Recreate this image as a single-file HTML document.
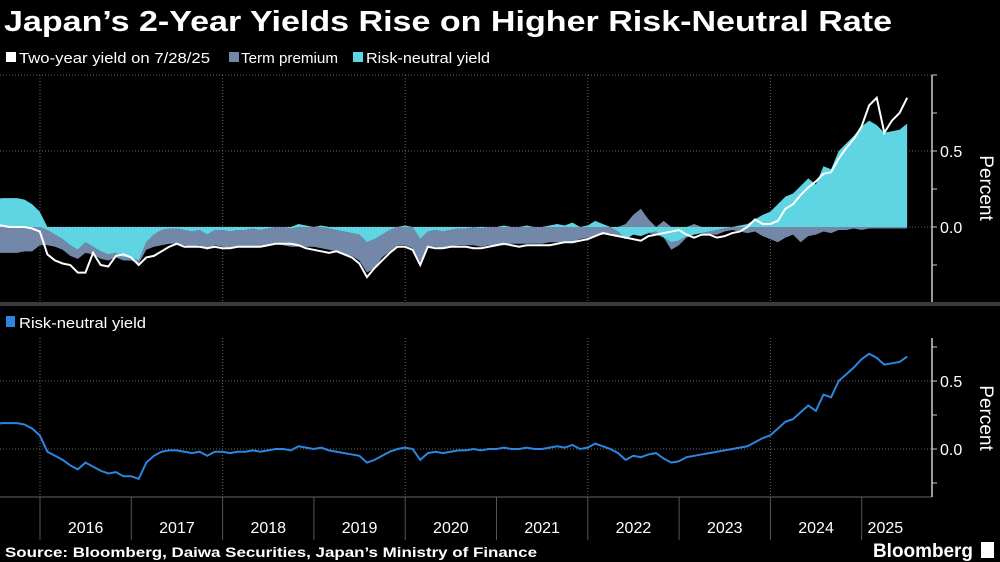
<!DOCTYPE html>
<html><head><meta charset="utf-8"><style>
body{margin:0;background:#000;width:1000px;height:562px;overflow:hidden;font-family:"Liberation Sans",sans-serif;color:#fff}
svg{position:absolute;left:0;top:0}
</style></head><body>
<svg id="c" width="1000" height="562">
<text x="4" y="31" font-size="29" font-weight="bold" fill="#fff" textLength="888" lengthAdjust="spacingAndGlyphs">Japan’s 2-Year Yields Rise on Higher Risk-Neutral Rate</text>
<g font-size="15" fill="#fff">
<rect x="6" y="52" width="10" height="10" fill="#fff"/><text x="19" y="63" textLength="191" lengthAdjust="spacingAndGlyphs">Two-year yield on 7/28/25</text>
<rect x="229" y="52" width="10" height="10" fill="#7388a8"/><text x="241" y="63" textLength="97" lengthAdjust="spacingAndGlyphs">Term premium</text>
<rect x="353" y="52" width="10" height="10" fill="#5fd4e2"/><text x="366" y="63" textLength="124" lengthAdjust="spacingAndGlyphs">Risk-neutral yield</text>
</g>
<g font-size="15" fill="#fff">
<rect x="6" y="316" width="9" height="11" fill="#2b86e0"/><text x="19" y="328" textLength="127" lengthAdjust="spacingAndGlyphs">Risk-neutral yield</text>
</g>
<g id="gridG"></g>
<g id="topG"></g>
<g id="botG"></g>
<g id="axesG"></g>
<rect x="0" y="302" width="1000" height="4" fill="#3a3a3a"/>
<text x="5" y="557" font-size="14" font-weight="bold" fill="#fff" textLength="532" lengthAdjust="spacingAndGlyphs">Source: Bloomberg, Daiwa Securities, Japan’s Ministry of Finance</text>
<text x="873" y="557" font-size="19" font-weight="bold" fill="#fff" textLength="100" lengthAdjust="spacingAndGlyphs">Bloomberg</text>
<rect x="981" y="542" width="13" height="16" fill="#fff"/>
</svg>
<script>
// Monthly data, Jul 2015 – Jul 2025
const startYear = 2015.5;
const years = ["2016","2017","2018","2019","2020","2021","2022","2023","2024","2025"];
const riskNeutral = [0.18,0.19,0.19,0.19,0.18,0.15,
0.10,-0.02,-0.05,-0.08,-0.12,-0.15,-0.10,-0.13,-0.16,-0.18,-0.17,-0.20,
-0.20,-0.22,-0.10,-0.05,-0.02,-0.01,-0.01,-0.02,-0.03,-0.02,-0.05,-0.02,
-0.02,-0.03,-0.02,-0.02,-0.01,-0.02,-0.01,0.0,0.0,-0.01,0.02,0.01,
0.0,0.01,-0.01,-0.02,-0.03,-0.04,-0.05,-0.10,-0.08,-0.05,-0.02,0.0,
0.01,0.0,-0.08,-0.03,-0.02,-0.03,-0.02,-0.01,-0.01,0.0,-0.01,0.0,
0.0,0.01,0.0,0.0,0.01,0.0,0.0,0.01,0.02,0.01,0.03,0.0,
0.01,0.04,0.02,0.0,-0.03,-0.08,-0.05,-0.06,-0.04,-0.03,-0.07,-0.10,
-0.09,-0.06,-0.05,-0.04,-0.03,-0.02,-0.01,0.0,0.01,0.02,0.05,0.08,
0.10,0.15,0.20,0.22,0.27,0.32,0.28,0.40,0.38,0.50,0.55,0.60,
0.66,0.70,0.67,0.62,0.63,0.64,0.68];
const termPremium = [-0.17,-0.17,-0.17,-0.17,-0.16,-0.16,
-0.12,-0.10,-0.08,-0.07,-0.07,-0.06,-0.07,-0.05,-0.05,-0.04,-0.03,-0.02,
-0.02,-0.02,-0.05,-0.08,-0.10,-0.10,-0.10,-0.10,-0.10,-0.10,-0.10,-0.10,
-0.11,-0.11,-0.11,-0.11,-0.12,-0.11,-0.11,-0.11,-0.12,-0.12,-0.13,-0.13,
-0.13,-0.14,-0.14,-0.14,-0.15,-0.15,-0.17,-0.20,-0.19,-0.15,-0.14,-0.12,
-0.12,-0.14,-0.15,-0.10,-0.11,-0.11,-0.11,-0.11,-0.11,-0.12,-0.12,-0.12,
-0.12,-0.12,-0.11,-0.11,-0.11,-0.11,-0.11,-0.10,-0.10,-0.10,-0.10,-0.08,
-0.07,-0.06,-0.05,-0.04,-0.03,0.02,0.08,0.12,0.05,-0.02,0.04,-0.05,
-0.03,-0.01,0.02,0.0,-0.02,-0.03,-0.02,-0.02,-0.03,-0.04,-0.03,-0.06,
-0.08,-0.10,-0.07,-0.05,-0.10,-0.06,-0.05,-0.03,-0.04,-0.02,-0.02,-0.01,
-0.02,-0.01,-0.01,-0.01,-0.01,-0.01,-0.01];
const twoYearYield = [0.01,0.01,0.0,0.0,0.0,-0.01,
-0.03,-0.18,-0.22,-0.24,-0.25,-0.30,-0.30,-0.17,-0.25,-0.26,-0.19,-0.18,
-0.20,-0.25,-0.20,-0.19,-0.16,-0.13,-0.11,-0.13,-0.13,-0.13,-0.14,-0.13,
-0.14,-0.14,-0.13,-0.13,-0.13,-0.13,-0.12,-0.11,-0.11,-0.11,-0.12,-0.14,
-0.15,-0.16,-0.17,-0.16,-0.18,-0.20,-0.24,-0.33,-0.27,-0.22,-0.17,-0.13,
-0.13,-0.15,-0.25,-0.13,-0.14,-0.14,-0.13,-0.13,-0.13,-0.14,-0.14,-0.13,
-0.12,-0.11,-0.12,-0.13,-0.12,-0.12,-0.12,-0.12,-0.11,-0.10,-0.10,-0.09,
-0.08,-0.06,-0.04,-0.05,-0.06,-0.07,-0.08,-0.09,-0.06,-0.05,-0.04,-0.03,
-0.02,-0.05,-0.07,-0.05,-0.05,-0.07,-0.06,-0.04,-0.03,0.00,0.05,0.02,
0.02,0.04,0.12,0.15,0.21,0.26,0.30,0.35,0.36,0.45,0.52,0.58,
0.66,0.80,0.85,0.62,0.70,0.75,0.85];
const topTicks = [0.5, 0.0];
const botTicks = [0.5, 0.0];

const NS="http://www.w3.org/2000/svg";
const X0=40, PXY=91.3, XAXIS=932;
const xOf = t => X0 + (t-2016)*PXY;
const xi = i => xOf(startYear + i/12 + 1/24) - 4;
const yTop = v => 227 - v*152;
const yBot = v => 449 - v*136;
function mk(tag, attrs, parent){const e=document.createElementNS(NS,tag);for(const k in attrs)e.setAttribute(k,attrs[k]);parent.appendChild(e);return e;}
const gridG=document.getElementById('gridG'), topG=document.getElementById('topG'), botG=document.getElementById('botG'), axesG=document.getElementById('axesG');

[yTop(1.0), ...topTicks.map(yTop)].forEach(y=>{const l=mk('line',{x1:0,x2:XAXIS,y1:y,y2:y,stroke:'#666','stroke-dasharray':'1,2'},gridG);

});
botTicks.forEach(v=>{const l=mk('line',{x1:0,x2:XAXIS,y1:yBot(v),y2:yBot(v),stroke:'#666','stroke-dasharray':'1,2'},gridG);

});
years.forEach((yr,k)=>{const x=xOf(+yr);
 if(k%2===0){
  const a=mk('line',{x1:x,x2:x,y1:75,y2:302,stroke:'#666','stroke-dasharray':'1,2'},gridG);
  
  
  const b=mk('line',{x1:x,x2:x,y1:338,y2:497,stroke:'#666','stroke-dasharray':'1,2'},gridG);
  
  
 }
 const d=mk('line',{x1:x,x2:x,y1:497,y2:540,stroke:'#555'},gridG);
 
 
 const nx = k<years.length-1 ? xOf(+yr+1) : 909;
 const t=mk('text',{x:(x+nx)/2,y:533,'font-size':16,'text-anchor':'middle',fill:'#fff'},axesG);
 t.textContent=yr;
 
 
});
const bl=mk('line',{x1:0,x2:XAXIS,y1:497,y2:497,stroke:'#666'},gridG);



const n=riskNeutral.length;
function area(lo,hi,fill,name){
 let d='M'+xi(0)+','+yTop(lo[0]);
 for(let i=0;i<n;i++){d+='L'+xi(i)+','+yTop(lo[i]);}
 for(let i=n-1;i>=0;i--){d+='L'+xi(i)+','+yTop(hi[i]);}
 d+='Z';
 const p=mk('path',{d:d,fill:fill},topG);
 
 
}
const zero=riskNeutral.map(()=>0);
const rnPos=riskNeutral.map(v=>Math.max(v,0)), rnNeg=riskNeutral.map(v=>Math.min(v,0));
const tpPosTop=termPremium.map((v,i)=>rnPos[i]+Math.max(v,0)), tpNegBot=termPremium.map((v,i)=>rnNeg[i]+Math.min(v,0));
area(rnNeg,tpNegBot,'#7388a8','term-premium-negative-area');
area(rnPos,tpPosTop,'#7388a8','term-premium-positive-area');
area(zero,rnPos,'#5fd4e2','risk-neutral-positive-area');
area(zero,rnNeg,'#5fd4e2','risk-neutral-negative-area');
let d=''; twoYearYield.forEach((v,i)=>{d+=(i?'L':'M')+xi(i)+','+yTop(v);});
const yl=mk('path',{d:d,fill:'none',stroke:'#fff','stroke-width':2},topG);


d=''; riskNeutral.forEach((v,i)=>{d+=(i?'L':'M')+xi(i)+','+yBot(v);});
const rl=mk('path',{d:d,fill:'none',stroke:'#2b86e0','stroke-width':2},botG);



function rAxis(y1,y2,minor,major,yf,name){
 const a=mk('line',{x1:XAXIS,x2:XAXIS,y1:y1,y2:y2,stroke:'#ccc','stroke-width':1.5},axesG);
 
 
 minor.forEach(v=>{const t=mk('line',{x1:XAXIS,x2:XAXIS+5,y1:yf(v),y2:yf(v),stroke:'#ccc'},axesG);
  
  });
 major.forEach(v=>{const t=mk('text',{x:XAXIS+8,y:yf(v)+6,'font-size':16,fill:'#fff'},axesG);
  t.textContent=v.toFixed(1);
  
  });
}
rAxis(75,302,[1.0,0.75,0.5,0.25,0,-0.25,-0.5],topTicks,yTop,'top-y');
rAxis(338,497,[0.75,0.5,0.25,0,-0.25],botTicks,yBot,'bottom-y');
[[188,'top-y-axis-title'],[418,'bottom-y-axis-title']].forEach(([y,nm])=>{
 const t=mk('text',{x:0,y:0,'font-size':19,fill:'#fff','text-anchor':'middle',transform:'translate(980,'+y+') rotate(90)'},axesG);
 t.textContent='Percent';
 
 
});
</script>
</body></html>
